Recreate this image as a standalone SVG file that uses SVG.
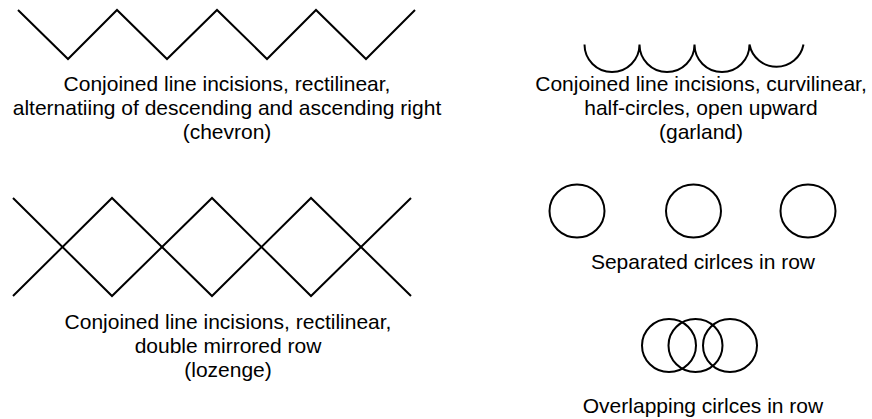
<svg xmlns="http://www.w3.org/2000/svg" width="872" height="419" viewBox="0 0 872 419">
  <style>
    .motif { fill: none; stroke: #000; stroke-width: 2; stroke-linejoin: miter; }
    .caption { font-family: "Liberation Sans", Arial, sans-serif; font-size: 21px; fill: #000; text-anchor: middle; }
  </style>
  <rect width="872" height="419" fill="#fff"/>

  <!-- Chevron: single zigzag -->
  <g id="chevron">
    <polyline class="motif" points="18,10 68,59 117,10 167,59 217,10 267,59 316,10 366,59 415,10"/>
    <text class="caption" x="227" y="91">Conjoined line incisions, rectilinear,</text>
    <text class="caption" x="227" y="115">alternatiing of descending and ascending right</text>
    <text class="caption" x="227" y="139">(chevron)</text>
  </g>

  <!-- Lozenge: two mirrored zigzags -->
  <g id="lozenge">
    <polyline class="motif" points="13,198 112,296 212,198 311,296 411,198"/>
    <polyline class="motif" points="13,296 112,198 212,296 311,198 411,296"/>
    <text class="caption" x="228" y="329">Conjoined line incisions, rectilinear,</text>
    <text class="caption" x="228" y="353">double mirrored row</text>
    <text class="caption" x="228" y="377">(lozenge)</text>
  </g>

  <!-- Garland: four half-circles open upward -->
  <g id="garland">
    <path class="motif" d="M584.5,44.5 A27.5,27.5 0 0 0 639.5,44.5 A27.5,27.5 0 0 0 694.5,44.5 A27.5,27.5 0 0 0 749.5,44.5 A27.5,27.5 0 0 0 803.5,44.5"/>
    <text class="caption" x="701" y="91">Conjoined line incisions, curvilinear,</text>
    <text class="caption" x="701" y="115">half-circles, open upward</text>
    <text class="caption" x="701" y="139">(garland)</text>
  </g>

  <!-- Separated circles -->
  <g id="separated-circles">
    <ellipse class="motif" cx="577" cy="211" rx="27.5" ry="26.5"/>
    <ellipse class="motif" cx="693.5" cy="211" rx="27.5" ry="26.5"/>
    <ellipse class="motif" cx="808" cy="211" rx="27.5" ry="26.5"/>
    <text class="caption" x="703" y="269">Separated cirlces in row</text>
  </g>

  <!-- Overlapping circles -->
  <g id="overlapping-circles">
    <ellipse class="motif" cx="669" cy="345.5" rx="27" ry="26.5"/>
    <ellipse class="motif" cx="695.5" cy="345.5" rx="27" ry="26.5"/>
    <ellipse class="motif" cx="730" cy="345.5" rx="27" ry="26.5"/>
    <text class="caption" x="703" y="413">Overlapping cirlces in row</text>
  </g>
</svg>
